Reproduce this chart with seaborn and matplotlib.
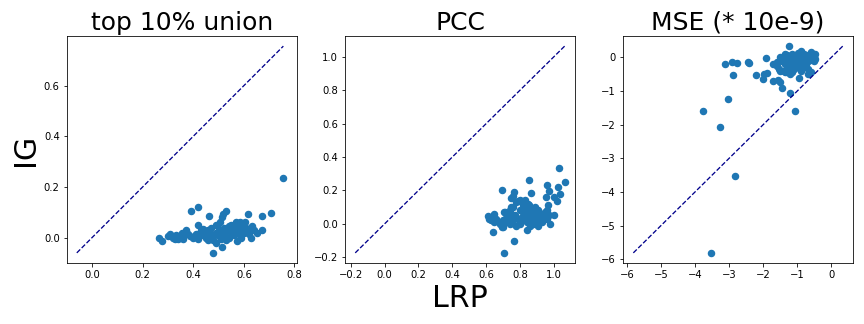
import numpy as np
import pandas as pd
import seaborn as sns
import matplotlib
matplotlib.use("Agg")
import matplotlib.pyplot as plt
from matplotlib.ticker import MultipleLocator

# values (x = LRP, y = IG)
titles = ["top 10% union", "PCC", "MSE (* 10e-9)"]

union_lrp = [0.756, 0.708, 0.672, 0.618, 0.673, 0.391, 0.420, 0.461, 0.528, 0.519,
             0.512, 0.506, 0.478, 0.515, 0.263, 0.275, 0.308, 0.327, 0.354, 0.371,
             0.360, 0.387, 0.420, 0.400, 0.585, 0.605, 0.631, 0.558, 0.627, 0.572,
             0.300, 0.320, 0.340, 0.430, 0.440, 0.450, 0.460, 0.470, 0.480, 0.490,
             0.500, 0.500, 0.510, 0.520, 0.530, 0.540, 0.550, 0.560, 0.570, 0.580,
             0.590, 0.600, 0.610, 0.620, 0.640, 0.650, 0.410, 0.420, 0.440, 0.450,
             0.470, 0.480, 0.490, 0.520, 0.530, 0.460, 0.550, 0.570, 0.590, 0.600,
             0.630, 0.430, 0.380, 0.360, 0.330, 0.490, 0.510, 0.540, 0.560, 0.580]
union_ig = [0.236, 0.099, 0.087, 0.092, 0.031, 0.107, 0.120, 0.084, 0.107, 0.093,
            0.080, 0.063, -0.060, -0.036, 0.000, -0.013, 0.013, -0.007, 0.020, 0.031,
            -0.007, 0.007, 0.050, 0.000, 0.060, 0.060, 0.047, 0.040, 0.000, -0.013,
            0.005, 0.000, -0.005, 0.010, 0.020, 0.000, 0.030, 0.015, -0.010, 0.020,
            0.005, 0.035, -0.005, 0.015, 0.030, 0.000, 0.020, 0.010, 0.030, 0.015,
            0.035, 0.020, 0.040, 0.015, 0.030, 0.020, 0.015, -0.005, 0.035, 0.025,
            0.040, 0.005, 0.050, 0.040, -0.010, -0.010, 0.050, 0.060, 0.000, 0.045,
            0.035, 0.030, 0.015, 0.005, 0.010, -0.020, 0.025, 0.045, 0.025, 0.050]

pcc_lrp = [1.031, 1.065, 1.025, 1.040, 1.020, 1.004, 0.963, 0.971, 0.952, 0.968,
           0.960, 1.003, 0.981, 0.856, 0.864, 0.693, 0.768, 0.758, 0.748, 0.746,
           0.704, 0.765, 0.704, 0.639, 0.609, 0.647, 0.667, 0.693, 0.792, 0.832,
           0.852, 0.812, 0.872, 0.892, 0.912, 0.842, 0.752,
           0.62, 0.63, 0.65, 0.66, 0.68, 0.70, 0.71, 0.72, 0.73, 0.74,
           0.75, 0.76, 0.77, 0.78, 0.79, 0.80, 0.80, 0.81, 0.82, 0.82,
           0.83, 0.84, 0.84, 0.85, 0.85, 0.86, 0.86, 0.87, 0.87, 0.88,
           0.88, 0.89, 0.89, 0.90, 0.90, 0.91, 0.91, 0.92, 0.92, 0.93,
           0.94, 0.95, 0.96, 0.97, 0.78, 0.80, 0.76, 0.74, 0.70, 0.72]
pcc_ig = [0.333, 0.250, 0.220, 0.180, 0.135, 0.160, 0.232, 0.196, 0.160, 0.115,
          0.085, 0.055, 0.000, 0.260, 0.186, 0.200, 0.192, 0.166, 0.152, 0.101,
          0.071, -0.103, -0.174, -0.046, 0.044, 0.061, 0.014, -0.016, 0.135, 0.145,
          0.115, 0.075, 0.044, 0.095, 0.065, -0.036, 0.004,
          0.03, 0.02, 0.01, 0.03, 0.00, 0.02, 0.07, 0.01, 0.04, 0.00,
          0.06, 0.02, 0.05, -0.01, 0.03, 0.08, 0.00, 0.04, 0.11, 0.02,
          0.06, 0.01, 0.09, 0.03, 0.12, 0.05, -0.01, 0.02, 0.08, 0.04,
          0.00, 0.06, 0.10, 0.02, 0.05, -0.01, 0.08, 0.03, 0.06, 0.01,
          0.04, 0.07, 0.03, 0.05, 0.13, 0.14, 0.10, 0.08, -0.02, 0.06]

mse_lrp = [-3.53, -2.84, -3.77, -3.27, -3.03, -1.07, -1.21, -0.95, -2.89, -3.12,
           -2.91, -2.77, -2.45, -2.42, -1.91, -2.20, -2.00, -1.98, -1.88, -1.71,
           -1.56, -1.50, -1.45, -1.24, -0.90, -0.59, -0.64, -0.68, -1.71, -1.61,
           -1.52, -1.37, -1.22,
           -1.50, -1.45, -1.40, -1.35, -1.30, -1.28, -1.25, -1.20, -1.15, -1.12,
           -1.10, -1.05, -1.02, -1.00, -0.98, -0.95, -0.92, -0.90, -0.88, -0.85,
           -0.82, -0.80, -0.78, -0.75, -0.72, -0.70, -0.68, -0.65, -0.62, -0.60,
           -0.58, -0.55, -0.52, -0.50, -0.48, -0.47, -1.60, -1.55, -1.65, -1.40,
           -1.30, -1.15, -0.90, -1.00, -1.20, -1.35, -0.70, -0.60]
mse_ig = [-5.81, -3.52, -1.59, -2.07, -1.23, -1.59, -1.05, -0.63, -0.54, -0.21,
          -0.15, -0.17, -0.13, -0.16, -0.03, -0.54, -0.65, -0.50, -0.47, -0.70,
          -0.67, -0.73, -0.90, 0.33, 0.20, 0.15, -0.45, -0.50, -0.20, -0.25,
          -0.40, -0.45, -0.50,
          0.00, -0.10, 0.05, -0.20, 0.08, -0.05, -0.30, 0.00, 0.10, -0.15,
          -0.35, 0.05, -0.10, -0.25, 0.12, 0.00, -0.18, -0.05, 0.05, -0.30,
          -0.10, 0.10, 0.00, -0.20, -0.05, 0.08, -0.12, 0.02, -0.08, 0.12,
          -0.02, 0.05, -0.10, 0.00, 0.10, -0.05, -0.15, -0.35, -0.20, -0.40,
          -0.45, -0.45, -0.40, -0.30, -0.20, 0.10, -0.35, -0.45]


def make_panel(ax, x, y, title):
    df = pd.DataFrame({"LRP": x, "IG": y})
    lo = min(df["LRP"].min(), df["IG"].min())
    hi = max(df["LRP"].max(), df["IG"].max())
    ax.plot([lo, hi], [lo, hi], "--", color="darkblue", linewidth=1.3)
    sns.scatterplot(data=df, x="LRP", y="IG", ax=ax, s=36, color="#1f77b4",
                    edgecolor="#1f77b4", linewidth=1.5)
    ax.set_title(title, fontsize=25)
    ax.set(xlabel="", ylabel="")


def main():
    fig, axes = plt.subplots(1, 3, figsize=(12, 4.5), dpi=72)
    make_panel(axes[0], union_lrp, union_ig, titles[0])
    make_panel(axes[1], pcc_lrp, pcc_ig, titles[1])
    make_panel(axes[2], mse_lrp, mse_ig, titles[2])
    # first panel: wider x range and 0.2 tick spacing as in the original
    axes[0].set_xlim(-0.1, 0.81)
    axes[0].xaxis.set_major_locator(MultipleLocator(0.2))
    axes[0].yaxis.set_major_locator(MultipleLocator(0.2))
    axes[0].set_ylabel("IG", fontsize=30)
    axes[1].set_xlabel("LRP", fontsize=30)
    fig.tight_layout()
    fig.savefig("out.png", dpi=72)
    plt.close()


if __name__ == '__main__':
    main()
